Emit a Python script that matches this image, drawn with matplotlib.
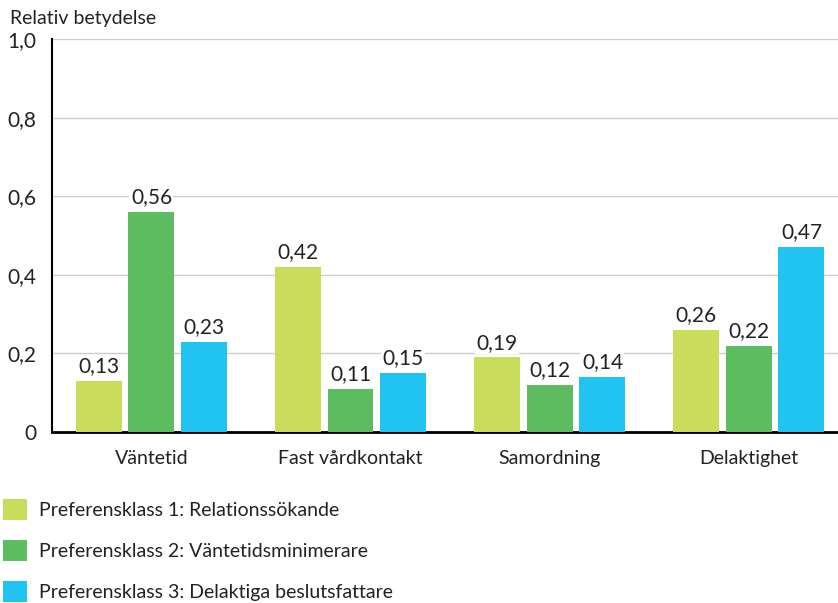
import matplotlib.pyplot as plt
import numpy as np
from matplotlib.patches import Patch

plt.rcParams['font.family'] = ['Lato', 'DejaVu Sans']

# Data
kategorier = ['Väntetid', 'Fast vårdkontakt', 'Samordning', 'Delaktighet']
klass1 = [0.13, 0.42, 0.19, 0.26]
klass2 = [0.56, 0.11, 0.12, 0.22]
klass3 = [0.23, 0.15, 0.14, 0.47]
serier = ['Preferensklass 1: Relationssökande',
          'Preferensklass 2: Väntetidsminimerare',
          'Preferensklass 3: Delaktiga beslutsfattare']
farger = ['#C9DC5C', '#5DBB60', '#21C3F1']

fig = plt.figure(figsize=(8.38, 6.03), dpi=100)
ax = fig.add_axes([0.062, 0.2836, 0.95, 0.6517])

x = np.arange(len(kategorier))
bredd = 0.231
steg = 0.266

for i, (vals, farg) in enumerate(zip([klass1, klass2, klass3], farger)):
    pos = x + (i - 1) * steg
    ax.bar(pos, vals, width=bredd, color=farg, zorder=3)
    for p, v in zip(pos, vals):
        ax.text(p, v + 0.012, f'{v:.2f}'.replace('.', ','), ha='center', va='bottom',
                fontsize=15, color='#222222', zorder=4,
                bbox=dict(facecolor='white', edgecolor='none', pad=1))

ax.set_xlim(-0.5, 3.5)
ax.set_ylim(0, 1.0)
ax.set_yticks([0, 0.2, 0.4, 0.6, 0.8, 1.0])
ax.set_yticklabels(['0', '0,2', '0,4', '0,6', '0,8', '1,0'], fontsize=15)
ax.set_xticks(x)
ax.set_xticklabels(kategorier, fontsize=14)
ax.tick_params(axis='y', length=0, pad=11, colors='#222222')
ax.tick_params(axis='x', length=0, pad=13, colors='#222222')
ax.yaxis.grid(True, color='#cccccc', linewidth=1, zorder=0)
ax.set_axisbelow(True)
for s in ['top', 'right']:
    ax.spines[s].set_visible(False)
ax.spines['left'].set_linewidth(1.5)
ax.spines['bottom'].set_linewidth(2)

fig.text(0.012, 0.97, 'Relativ betydelse', fontsize=14, ha='left', va='center', color='#222222')

handles = [Patch(facecolor=f, edgecolor='none') for f in farger]
fig.legend(handles, serier, loc='upper left', bbox_to_anchor=(3 / 838, 1 - 499 / 603),
           frameon=False, fontsize=14, handlelength=1.25, handleheight=1.25,
           labelspacing=1.05, handletextpad=0.6, borderpad=0, borderaxespad=0,
           labelcolor='#222222')

fig.savefig('out.png', dpi=100)
